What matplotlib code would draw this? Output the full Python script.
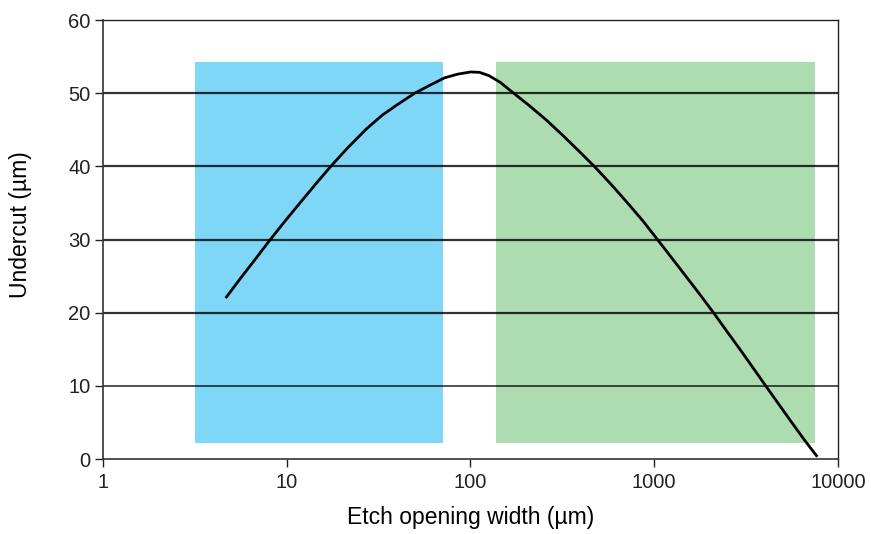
import matplotlib.pyplot as plt
from matplotlib.patches import Rectangle
from matplotlib.ticker import FixedLocator, FixedFormatter, NullLocator

plt.rcParams['font.family'] = ['Liberation Sans', 'DejaVu Sans']

# curve: etch opening width (um) vs undercut (um)
width = [4.65, 5.62, 6.76, 8.08, 9.77, 11.8, 14.5, 17.5, 21.4, 27.1,
         33.1, 39.8, 49.7, 60.3, 72.3, 85.1, 100, 112, 126, 145,
         166, 209, 257, 316, 389, 472, 575, 716, 871, 1042,
         1245, 1486, 1778, 2118, 2512, 2958, 3467, 4046, 4732, 5534,
         6531, 7727]
undercut = [22.0, 24.75, 27.35, 29.9, 32.5, 35.0, 37.7, 40.1, 42.5, 45.1,
            47.0, 48.4, 50.0, 51.1, 52.1, 52.6, 52.9, 52.85, 52.4, 51.5,
            50.3, 48.3, 46.4, 44.3, 42.1, 40.0, 37.7, 35.0, 32.5, 30.0,
            27.5, 25.0, 22.45, 19.9, 17.3, 14.85, 12.4, 10.0, 7.6, 5.2,
            2.7, 0.3]

# shaded ranges (x from, x to), undercut band
blue_range = (3.16, 71.3)
green_range = (138, 7500)
band = (2.2, 54.3)

grid_levels = [10, 20, 30, 40, 50]
x_ticks = [1, 10, 100, 1000, 10000]
y_ticks = [0, 10, 20, 30, 40, 50, 60]

fig = plt.figure(figsize=(8.71, 5.34), dpi=100)
ax = fig.add_axes([0.1183, 0.1404, 0.8437, 0.8221])
ax.set_xscale('log')
ax.set_xlim(1, 10000)
ax.set_ylim(0, 60)

for (x0, x1), col in [(blue_range, '#7fd7f7'), (green_range, '#addcb1')]:
    ax.add_patch(Rectangle((x0, band[0]), x1 - x0, band[1] - band[0],
                           facecolor=col, edgecolor='none', zorder=1))

for lvl in grid_levels:
    lw = 1.2 if lvl == 10 else 1.6
    ax.axhline(lvl, color='black', lw=lw, alpha=0.8, zorder=2)

ax.plot(width, undercut, color='black', lw=2.0, zorder=3,
        solid_capstyle='butt', solid_joinstyle='round')

ax.xaxis.set_major_locator(FixedLocator(x_ticks))
ax.xaxis.set_major_formatter(FixedFormatter([str(v) for v in x_ticks]))
ax.xaxis.set_minor_locator(NullLocator())
ax.set_yticks(y_ticks)
ax.tick_params(axis='both', direction='out', length=6, width=1,
               labelsize=14.5, colors='#222222', pad=4)
ax.tick_params(axis='y', pad=3)

for side in ['left', 'bottom']:
    ax.spines[side].set_color('#333333')
    ax.spines[side].set_linewidth(1.2)
for side in ['top', 'right']:
    ax.spines[side].set_color('#222222')
    ax.spines[side].set_linewidth(1.0)

ax.set_xlabel('Etch opening width (µm)', fontsize=16.5, labelpad=10)
ax.set_ylabel('Undercut (µm)', fontsize=16.5)
ax.yaxis.set_label_coords(-0.097, 0.535)

fig.savefig('out.png', dpi=100)
